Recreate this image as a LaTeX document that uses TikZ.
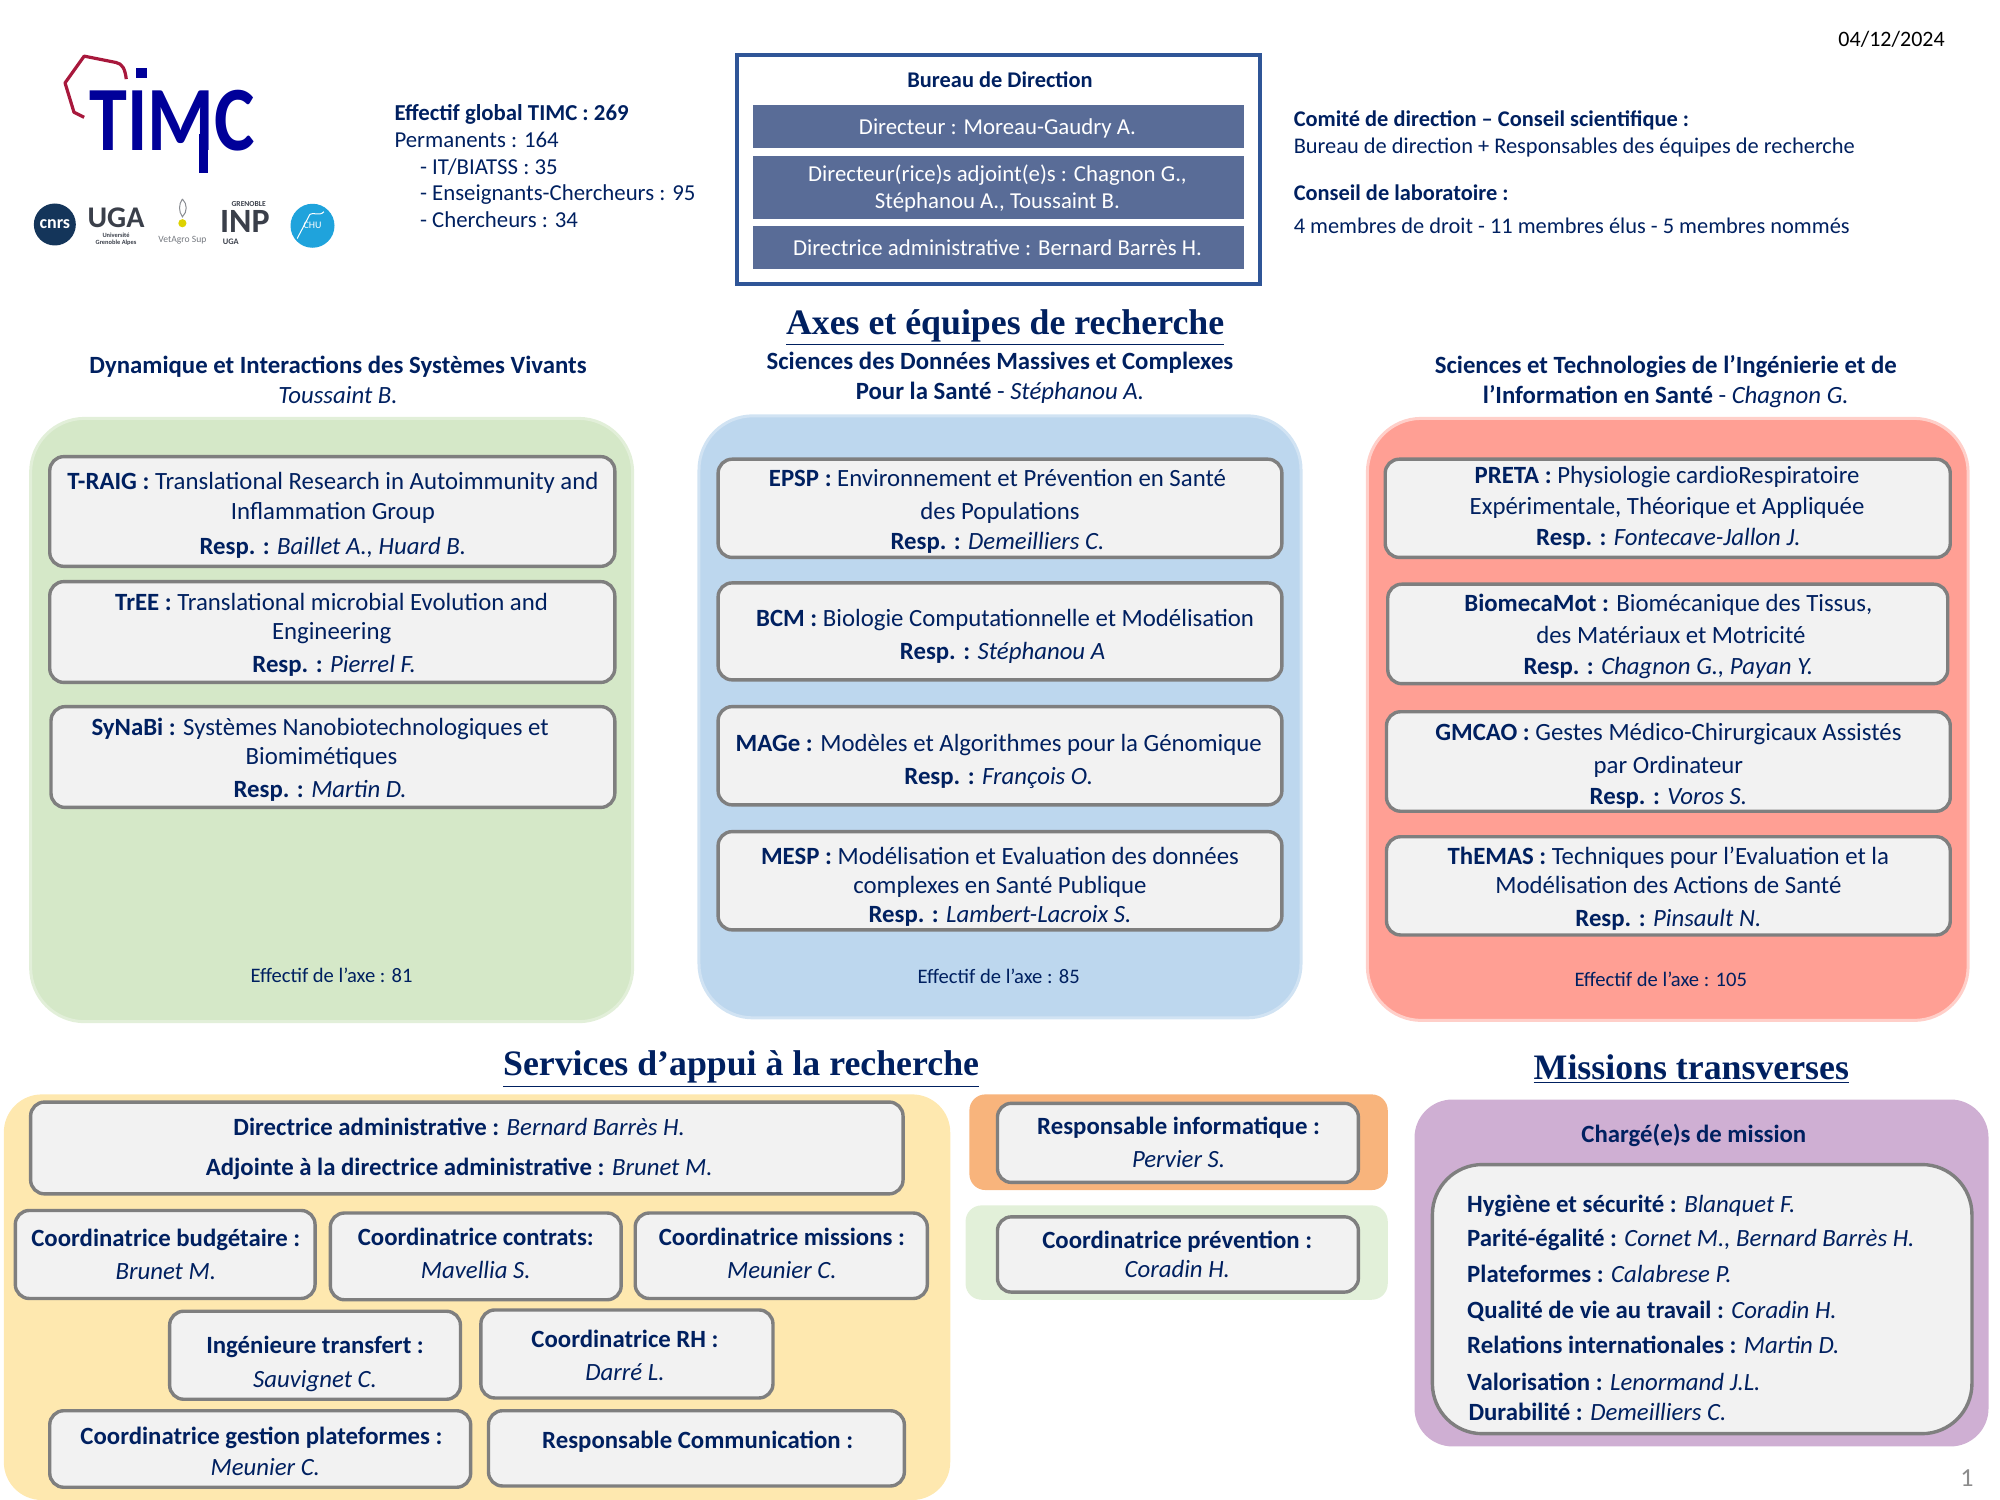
\documentclass[tikz,border=0pt]{standalone}
\usepackage{fontspec}
\setmainfont{Carlito}
\newfontfamily\hfont{Liberation Serif}
\usetikzlibrary{fit}
\definecolor{navy}{HTML}{002060}
\definecolor{bdborder}{HTML}{2F5597}
\definecolor{bdfill}{HTML}{596C97}
\definecolor{pgreen}{HTML}{D5E8C8}
\definecolor{pblue}{HTML}{BDD7EE}
\definecolor{pred}{HTML}{FF9F94}
\definecolor{pyellow}{HTML}{FEE8AF}
\definecolor{porange}{HTML}{F8B47C}
\definecolor{plgreen}{HTML}{E2F0D9}
\definecolor{ppurple}{HTML}{CFAFD3}
\definecolor{ibfill}{HTML}{F2F2F2}
\definecolor{ibline}{HTML}{7F7F7F}
\definecolor{logoblue}{HTML}{000099}
\definecolor{logored}{HTML}{A8183C}
\definecolor{cnrsblue}{HTML}{14355A}
\definecolor{chublue}{HTML}{1FA3DC}
\definecolor{ugagrey}{HTML}{3A3F4A}
\begin{document}
\begin{tikzpicture}[x=0.63775pt,y=-0.63775pt,
 tl/.style={anchor=base,inner sep=0pt,text=navy,yshift=-4.1pt,font=\fontsize{12.4}{14}\selectfont},
 tlw/.style={tl,anchor=base west},
 stat/.style={font=\fontsize{11.4}{13}\selectfont},
 small/.style={font=\fontsize{11.2}{13}\selectfont},
 eff/.style={font=\fontsize{10.3}{12}\selectfont},
 head/.style={tl,font=\hfont\bfseries\fontsize{17.9}{20}\selectfont,yshift=-2.4pt},
 panel/.style={fit={#1},inner sep=0pt,rounded corners=27pt,line width=1.5pt},
 ibox/.style={fit={#1},inner sep=0pt,rounded corners=7pt,draw=ibline,fill=ibfill,line width=1.7pt},
 bdbar/.style={fit={#1},inner sep=0pt,fill=bdfill},
 bdt/.style={tl,text=white,font=\fontsize{11.4}{13}\selectfont},
]
\useasboundingbox (0,0) rectangle (1568,1176);
% Date
\node[tl,text=black,font=\fontsize{11}{13}\selectfont] (date) at (1483,30) {04/12/2024};
% Logo
\draw[logored,line width=1.6pt,line join=round] (99,62) .. controls (98,54) and (96,50) .. (91,49) -- (66,44) -- (51,65) -- (58,88) -- (66,92);
\node[anchor=base,inner sep=0pt,text=logoblue,font=\bfseries\fontsize{46}{46}\selectfont,xscale=0.83] (timc) at (135,118) {TIMC};
\node[fill=logoblue,inner sep=0pt,fit={(107,53)(115,61)}] (timcdot) {};
\node[fill=logoblue,inner sep=0pt,fit={(156,105)(163,136)}] (timcstem) {};
\node[circle,fill=cnrsblue,inner sep=0pt,minimum size=21pt,text=white,font=\bfseries\fontsize{9}{10}\selectfont] (cnrs) at (43,176) {cnrs};
\node[anchor=base,inner sep=0pt,text=ugagrey,font=\bfseries\fontsize{15}{15}\selectfont] (uga) at (91,178) {UGA};
\node[anchor=base,inner sep=0pt,text=ugagrey,font=\bfseries\fontsize{3.2}{4}\selectfont] (uga2) at (91,186) {Université};
\node[anchor=base,inner sep=0pt,text=ugagrey,font=\bfseries\fontsize{3.2}{4}\selectfont] (uga3) at (91,192) {Grenoble Alpes};
\draw[ugagrey!60,line width=0.5pt] (143,156) .. controls (147,160) and (147,166) .. (143,170) .. controls (140,166) and (140,160) .. (143,156);
\fill[yellow!70!olive] (143,175) circle (3.2);
\node[anchor=base,inner sep=0pt,text=ugagrey!70,font=\fontsize{4.8}{5}\selectfont] (vet) at (143,190) {VetAgro Sup};
\node[anchor=base,inner sep=0pt,text=ugagrey,font=\bfseries\fontsize{3.8}{4}\selectfont] (inpg) at (195,162) {GRENOBLE};
\node[anchor=base,inner sep=0pt,text=ugagrey,font=\bfseries\fontsize{17}{17}\selectfont] (inp) at (192,182) {INP};
\node[anchor=base,inner sep=0pt,text=ugagrey,font=\bfseries\fontsize{4.2}{5}\selectfont] (inpu) at (181,192) {UGA};
\node[circle,fill=chublue,inner sep=0pt,minimum size=22pt,text=white,font=\fontsize{5}{6}\selectfont] (chu) at (245,177) {CHU};
\draw[white,line width=0.5pt] (233,187) -- (243,168) .. controls (246,166) and (250,170) .. (254,166);
% Stats
\node[tlw,stat] (s1) at (309,88) {\textbf{Effectif global TIMC : 269}};
\node[tlw,stat] (s2) at (309,109) {Permanents : 164};
\node[tlw,stat] (s3) at (329,130) {- IT/BIATSS : 35};
\node[tlw,stat] (s4) at (329,151) {- Enseignants-Chercheurs : 95};
\node[tlw,stat] (s5) at (329,172) {- Chercheurs : 34};
% Bureau
\node[fit={(578,43)(988,223)},inner sep=0pt,draw=bdborder,line width=2pt] (bureau) {};
\node[tl,small] (bt) at (784,62) {\textbf{Bureau de Direction}};
\node[bdbar={(590,82)(975,116)}] (b1) {};
\node[bdbar={(590,122)(975,172)}] (b2) {};
\node[bdbar={(590,177)(975,211)}] (b3) {};
\node[bdt] (b1t) at (782,99) {Directeur : Moreau-Gaudry A.};
\node[bdt] (b2t) at (782,136) {Directeur(rice)s adjoint(e)s : Chagnon G.,};
\node[bdt] (b2u) at (782,157) {Stéphanou A., Toussaint B.};
\node[bdt] (b3t) at (782,194) {Directrice administrative : Bernard Barrès H.};
% Comite
\node[tlw,small] (c1) at (1014,93) {\textbf{Comité de direction – Conseil scientifique :}};
\node[tlw,small] (c2) at (1014,114) {Bureau de direction + Responsables des équipes de recherche};
\node[tlw,small] (c3) at (1014,151) {\textbf{Conseil de laboratoire :}};
\node[tlw,small] (c4) at (1014,177) {4 membres de droit - 11 membres élus - 5 membres nommés};
% Headings
\node[head] (hax) at (788,252) {\underline{Axes et équipes de recherche}};
\node[tl] (t1a) at (265,286) {\textbf{Dynamique et Interactions des Systèmes Vivants}};
\node[tl] (t1b) at (265,310) {\textit{Toussaint B.}};
\node[tl] (t2a) at (784,283) {\textbf{Sciences des Données Massives et Complexes}};
\node[tl] (t2b) at (784,307) {\textbf{Pour la Santé} - \textit{Stéphanou A.}};
\node[tl] (t3a) at (1306,286) {\textbf{Sciences et Technologies de l’Ingénierie et de}};
\node[tl] (t3b) at (1306,310) {\textbf{l’Information en Santé} - \textit{Chagnon G.}};
% Panels
\node[panel={(24,328)(496,801)},fill=pgreen,draw=pgreen!70!white] (pg) {};
\node[panel={(548,326)(1020,798)},fill=pblue,draw=pblue!70!white] (pb) {};
\node[panel={(1072,328)(1543,800)},fill=pred,draw=pred!50!white] (pr) {};
% Left column
\node[ibox={(39,358)(482,444)}] (l1) {};
\node[tl] (l1a) at (261,377) {\textbf{T-RAIG :} Translational Research in Autoimmunity and};
\node[tl] (l1b) at (261,401) {Inflammation Group};
\node[tl] (l1c) at (261,428) {\textbf{Resp. :} \textit{Baillet A., Huard B.}};
\node[ibox={(39,456)(482,535)}] (l2) {};
\node[tl] (l2a) at (260,472) {\textbf{TrEE :} Translational microbial Evolution and};
\node[tl] (l2b) at (260,495) {Engineering};
\node[tl] (l2c) at (262,521) {\textbf{Resp. :} \textit{Pierrel F.}};
\node[ibox={(40,554)(482,633)}] (l3) {};
\node[tl] (l3a) at (251,570) {\textbf{SyNaBi :} Systèmes Nanobiotechnologiques et};
\node[tl] (l3b) at (252,593) {Biomimétiques};
\node[tl] (l3c) at (251,619) {\textbf{Resp. :} \textit{Martin D.}};
\node[tl,eff] (le) at (260,764) {Effectif de l’axe : 81};
% Centre column
\node[ibox={(563,360)(1005,437)}] (m1) {};
\node[tl] (m1a) at (782,375) {\textbf{EPSP :} Environnement et Prévention en Santé};
\node[tl] (m1b) at (784,401) {des Populations};
\node[tl] (m1c) at (782,424) {\textbf{Resp. :} \textit{Demeilliers C.}};
\node[ibox={(563,457)(1005,533)}] (m2) {};
\node[tl] (m2a) at (788,485) {\textbf{BCM :} Biologie Computationnelle et Modélisation};
\node[tl] (m2b) at (786,511) {\textbf{Resp. :} \textit{Stéphanou A}};
\node[ibox={(563,554)(1005,631)}] (m3) {};
\node[tl] (m3a) at (783,583) {\textbf{MAGe :} Modèles et Algorithmes pour la Génomique};
\node[tl] (m3b) at (783,609) {\textbf{Resp. :} \textit{François O.}};
\node[ibox={(563,652)(1005,729)}] (m4) {};
\node[tl] (m4a) at (784,671) {\textbf{MESP :} Modélisation et Evaluation des données};
\node[tl] (m4b) at (784,694) {complexes en Santé Publique};
\node[tl] (m4c) at (784,717) {\textbf{Resp. :} \textit{Lambert-Lacroix S.}};
\node[tl,eff] (me) at (783,765) {Effectif de l’axe : 85};
% Right column
\node[ibox={(1086,360)(1529,437)}] (r1) {};
\node[tl] (r1a) at (1307,373) {\textbf{PRETA :} Physiologie cardioRespiratoire};
\node[tl] (r1b) at (1307,397) {Expérimentale, Théorique et Appliquée};
\node[tl] (r1c) at (1308,421) {\textbf{Resp. :} \textit{Fontecave-Jallon J.}};
\node[ibox={(1088,458)(1527,536)}] (r2) {};
\node[tl] (r2a) at (1308,473) {\textbf{BiomecaMot :} Biomécanique des Tissus,};
\node[tl] (r2b) at (1310,498) {des Matériaux et Motricité};
\node[tl] (r2c) at (1308,522) {\textbf{Resp. :} \textit{Chagnon G., Payan Y.}};
\node[ibox={(1087,558)(1529,636)}] (r3) {};
\node[tl] (r3a) at (1308,574) {\textbf{GMCAO :} Gestes Médico-Chirurgicaux Assistés};
\node[tl] (r3b) at (1308,600) {par Ordinateur};
\node[tl] (r3c) at (1308,624) {\textbf{Resp. :} \textit{Voros S.}};
\node[ibox={(1087,656)(1529,733)}] (r4) {};
\node[tl] (r4a) at (1308,671) {\textbf{ThEMAS :} Techniques pour l’Evaluation et la};
\node[tl] (r4b) at (1308,694) {Modélisation des Actions de Santé};
\node[tl] (r4c) at (1308,720) {\textbf{Resp. :} \textit{Pinsault N.}};
\node[tl,eff] (re) at (1302,767) {Effectif de l’axe : 105};
% Services
\node[head] (hse) at (581,833) {\underline{Services d’appui à la recherche}};
\node[head] (hmi) at (1326,836) {\underline{Missions transverses}};
\node[panel={(3,858)(745,1176)},rounded corners=19pt,fill=pyellow,line width=0pt] (py) {};
\node[ibox={(24,864)(708,936)}] (y0) {};
\node[tl] (y0a) at (360,884) {\textbf{Directrice administrative :} \textit{Bernard Barrès H.}};
\node[tl] (y0b) at (360,915) {\textbf{Adjointe à la directrice administrative :} \textit{Brunet M.}};
\node[ibox={(12,949)(247,1018)}] (y1) {};
\node[tl] (y1a) at (130,971) {\textbf{Coordinatrice budgétaire :}};
\node[tl] (y1b) at (130,997) {\textit{Brunet M.}};
\node[ibox={(259,951)(487,1019)}] (y2) {};
\node[tl] (y2a) at (373,970) {\textbf{Coordinatrice contrats:}};
\node[tl] (y2b) at (373,996) {\textit{Mavellia S.}};
\node[ibox={(498,951)(727,1018)}] (y3) {};
\node[tl] (y3a) at (613,970) {\textbf{Coordinatrice missions :}};
\node[tl] (y3b) at (613,996) {\textit{Meunier C.}};
\node[ibox={(133,1028)(361,1097)}] (y4) {};
\node[tl] (y4a) at (247,1055) {\textbf{Ingénieure transfert :}};
\node[tl] (y4b) at (247,1081) {\textit{Sauvignet C.}};
\node[ibox={(377,1027)(606,1096)}] (y5) {};
\node[tl] (y5a) at (490,1050) {\textbf{Coordinatrice RH :}};
\node[tl] (y5b) at (490,1076) {\textit{Darré L.}};
\node[ibox={(39,1106)(369,1166)}] (y6) {};
\node[tl] (y6a) at (205,1126) {\textbf{Coordinatrice gestion plateformes :}};
\node[tl] (y6b) at (208,1150) {\textit{Meunier C.}};
\node[ibox={(383,1106)(709,1165)}] (y7) {};
\node[tl] (y7a) at (547,1129) {\textbf{Responsable Communication :}};
% Orange / light green
\node[panel={(760,858)(1088,933)},rounded corners=8pt,fill=porange,line width=0pt] (po) {};
\node[ibox={(782,865)(1065,927)}] (o1) {};
\node[tl] (o1a) at (924,883) {\textbf{Responsable informatique :}};
\node[tl] (o1b) at (924,909) {\textit{Pervier S.}};
\node[panel={(757,945)(1088,1019)},rounded corners=8pt,fill=plgreen,line width=0pt] (pl) {};
\node[ibox={(782,954)(1065,1013)}] (o2) {};
\node[tl] (o2a) at (923,972) {\textbf{Coordinatrice prévention :}};
\node[tl] (o2b) at (923,995) {\textit{Coradin H.}};
% Purple
\node[panel={(1109,862)(1559,1134)},rounded corners=19pt,fill=ppurple,line width=0pt] (pp) {};
\node[tl] (ppt) at (1328,889) {\textbf{Chargé(e)s de mission}};
\node[ibox={(1123,913)(1546,1124)},rounded corners=25pt] (pi) {};
\node[tlw] (q1) at (1150,944) {\textbf{Hygiène et sécurité :} \textit{Blanquet F.}};
\node[tlw] (q2) at (1150,971) {\textbf{Parité-égalité :} \textit{Cornet M., Bernard Barrès H.}};
\node[tlw] (q3) at (1150,999) {\textbf{Plateformes :} \textit{Calabrese P.}};
\node[tlw] (q4) at (1150,1027) {\textbf{Qualité de vie au travail :} \textit{Coradin H.}};
\node[tlw] (q5) at (1150,1055) {\textbf{Relations internationales :} \textit{Martin D.}};
\node[tlw] (q6) at (1150,1084) {\textbf{Valorisation :} \textit{Lenormand J.L.}};
\node[tlw] (q7) at (1151,1107) {\textbf{Durabilité :} \textit{Demeilliers C.}};
% Page number
\node[tl,text=black!45,font=\fontsize{13}{14}\selectfont] (pn) at (1542,1159) {1};
\end{tikzpicture}
\end{document}
